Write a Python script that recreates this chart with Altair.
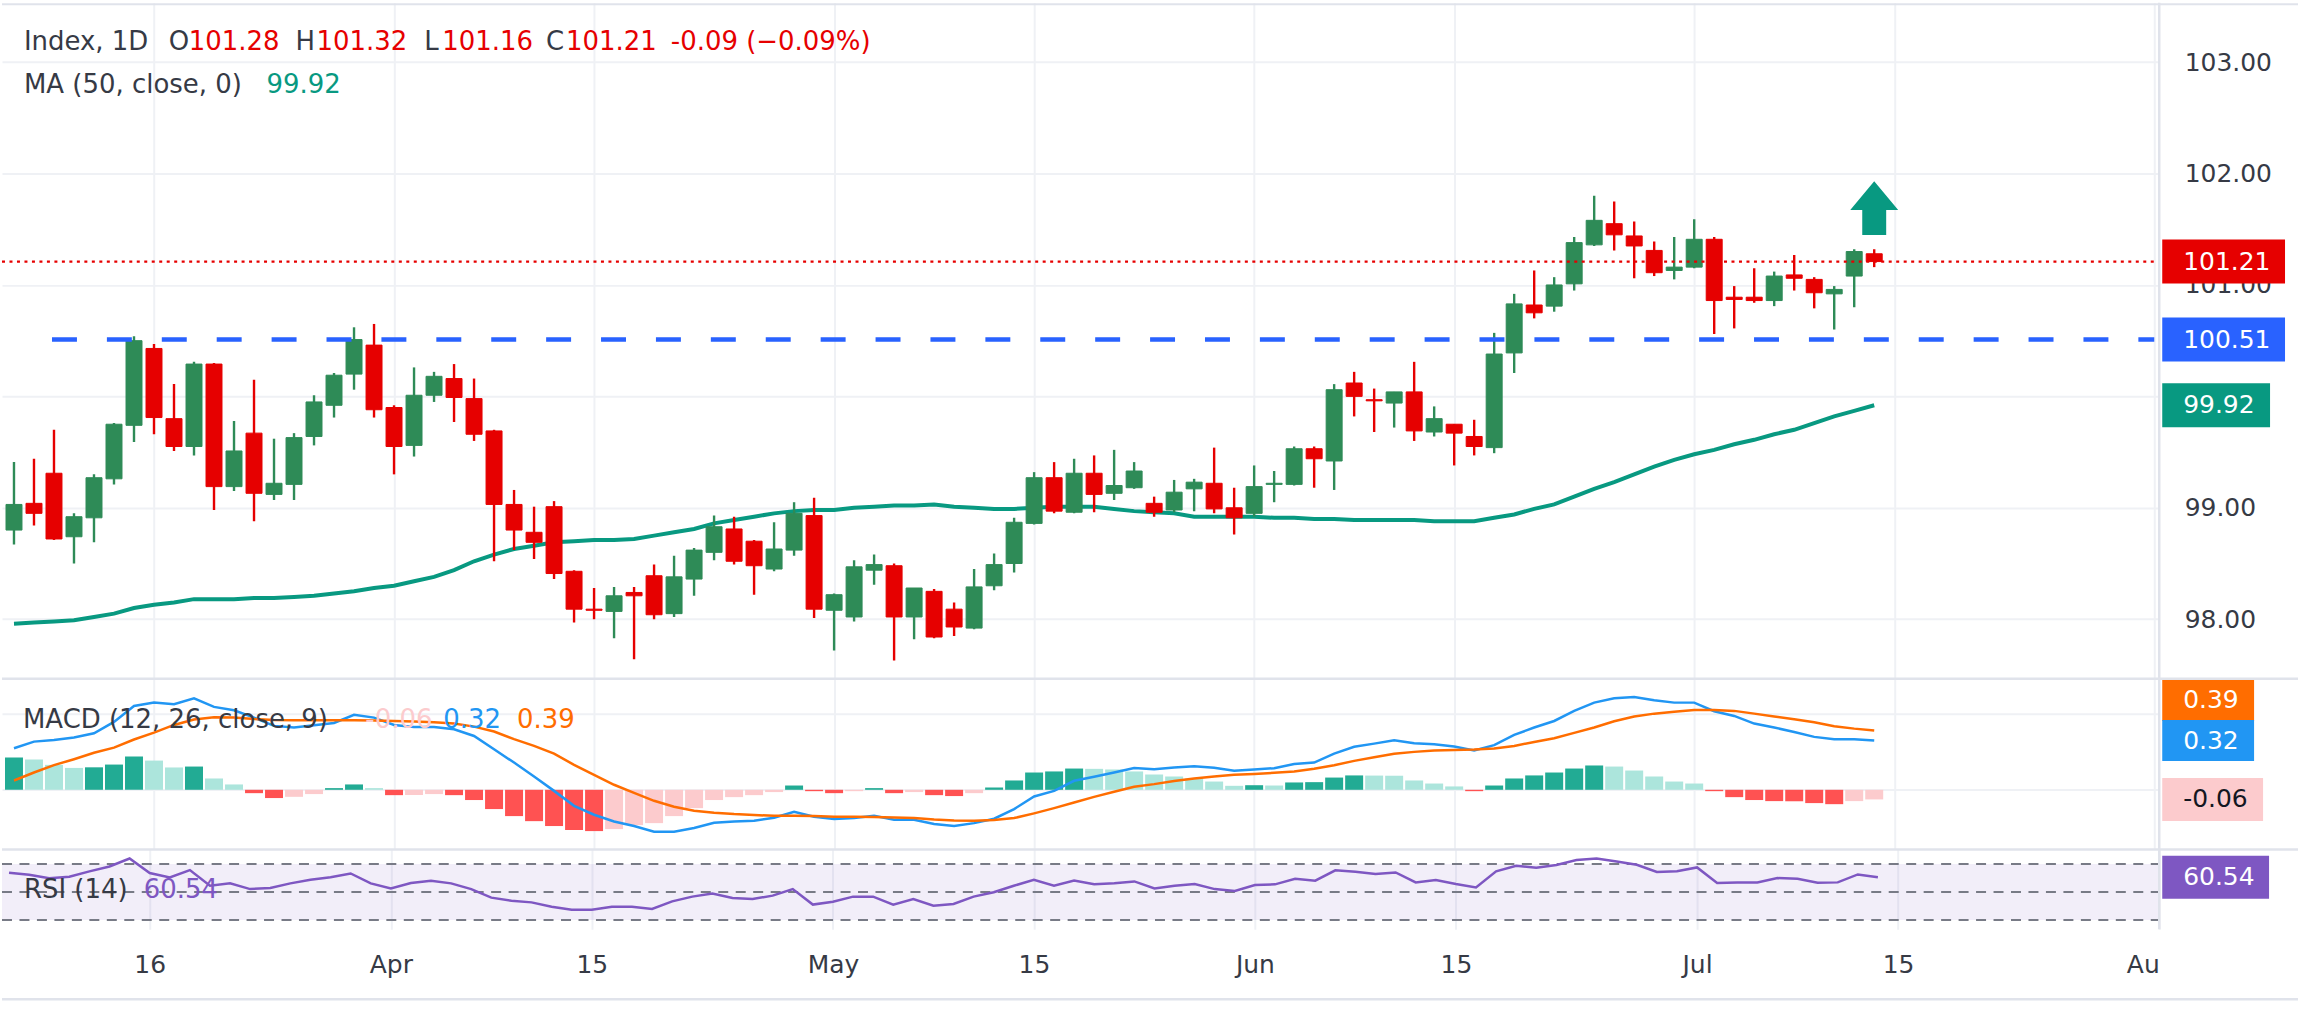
import altair as alt
import pandas as pd

# ------------------------------------------------------------------ data
opens = [
    98.80, 99.04, 99.31, 98.74, 98.91, 99.26, 99.74, 100.43, 99.80, 99.55,
    100.29, 99.19, 99.67, 99.12, 99.21, 99.64, 99.92, 100.20, 100.46, 99.90,
    99.56, 100.01, 100.16, 99.98, 99.69, 99.03, 98.78, 99.01, 98.43, 98.09,
    98.07, 98.24, 98.39, 98.05, 98.36, 98.60, 98.81, 98.70, 98.45, 98.62,
    98.93, 98.08, 98.02, 98.44, 98.48, 98.02, 98.25, 98.09, 97.92, 98.30,
    98.50, 98.86, 99.27, 98.96, 99.31, 99.13, 99.18, 99.04, 98.98, 99.17,
    99.22, 99.00, 98.95, 99.21, 99.21, 99.53, 99.42, 100.12, 99.97, 99.94,
    100.04, 99.68, 99.75, 99.64, 99.54, 100.39, 100.82, 100.81, 101.01, 101.36,
    101.55, 101.44, 101.31, 101.13, 101.16, 101.41, 100.89, 100.89, 100.86, 101.09,
    101.05, 100.92, 101.08, 101.28,
]
highs = [
    99.41, 99.44, 99.70, 98.95, 99.30, 99.76, 100.54, 100.47, 100.11, 100.31,
    100.30, 99.78, 100.15, 99.62, 99.67, 100.01, 100.21, 100.62, 100.65, 99.92,
    100.26, 100.22, 100.29, 100.16, 99.70, 99.16, 99.01, 99.06, 98.44, 98.28,
    98.29, 98.29, 98.49, 98.57, 98.64, 98.93, 98.92, 98.71, 98.87, 99.05,
    99.09, 98.23, 98.53, 98.58, 98.50, 98.28, 98.27, 98.15, 98.45, 98.59,
    98.91, 99.32, 99.41, 99.44, 99.47, 99.52, 99.41, 99.10, 99.25, 99.26,
    99.54, 99.18, 99.38, 99.33, 99.55, 99.55, 100.11, 100.22, 100.07, 100.04,
    100.31, 99.91, 99.75, 99.79, 100.57, 100.92, 101.13, 101.07, 101.43, 101.80,
    101.75, 101.57, 101.39, 101.43, 101.59, 101.43, 100.99, 101.15, 101.12, 101.27,
    101.07, 100.99, 101.32, 101.32,
]
lows = [
    98.67, 98.84, 98.71, 98.50, 98.69, 99.21, 99.59, 99.66, 99.51, 99.47,
    98.98, 99.15, 98.88, 99.07, 99.07, 99.56, 99.81, 100.06, 99.81, 99.30,
    99.46, 99.95, 99.77, 99.60, 98.52, 98.62, 98.54, 98.36, 97.97, 98.00,
    97.83, 97.64, 98.00, 98.02, 98.21, 98.53, 98.49, 98.22, 98.43, 98.57,
    98.01, 97.72, 97.98, 98.31, 97.63, 97.82, 97.83, 97.85, 97.91, 98.26,
    98.42, 98.85, 98.95, 98.95, 98.96, 99.07, 99.17, 98.92, 98.96, 98.97,
    98.95, 98.76, 98.92, 99.05, 99.20, 99.18, 99.16, 99.82, 99.68, 99.72,
    99.60, 99.64, 99.38, 99.47, 99.49, 100.21, 100.70, 100.76, 100.95, 101.35,
    101.31, 101.06, 101.08, 101.05, 101.15, 100.56, 100.61, 100.84, 100.81, 100.95,
    100.79, 100.60, 100.80, 101.16,
]
closes = [
    99.03, 98.95, 98.72, 98.92, 99.27, 99.75, 100.50, 99.81, 99.55, 100.29,
    99.19, 99.51, 99.13, 99.22, 99.63, 99.95, 100.19, 100.51, 99.88, 99.55,
    100.01, 100.18, 99.99, 99.66, 99.03, 98.80, 98.69, 98.41, 98.09, 98.08,
    98.21, 98.21, 98.04, 98.38, 98.62, 98.83, 98.52, 98.48, 98.63, 98.95,
    98.09, 98.22, 98.47, 98.49, 98.02, 98.28, 97.84, 97.93, 98.29, 98.49,
    98.87, 99.27, 98.97, 99.31, 99.12, 99.20, 99.33, 98.96, 99.14, 99.23,
    98.99, 98.91, 99.19, 99.22, 99.53, 99.44, 100.06, 100.00, 99.96, 100.04,
    99.69, 99.80, 99.67, 99.55, 100.38, 100.83, 100.75, 101.00, 101.38, 101.58,
    101.45, 101.35, 101.11, 101.16, 101.41, 100.86, 100.87, 100.86, 101.08, 101.06,
    100.93, 100.96, 101.30, 101.21,
]
ma50 = [
    97.96, 97.97, 97.98, 97.99, 98.02, 98.05, 98.10, 98.13, 98.15, 98.18,
    98.18, 98.18, 98.19, 98.19, 98.20, 98.21, 98.23, 98.25, 98.28, 98.30,
    98.34, 98.38, 98.44, 98.52, 98.58, 98.63, 98.66, 98.69, 98.70, 98.71,
    98.71, 98.72, 98.75, 98.78, 98.81, 98.86, 98.89, 98.92, 98.95, 98.97,
    98.98, 98.98, 99.00, 99.01, 99.02, 99.02, 99.03, 99.01, 99.00, 98.99,
    98.99, 99.00, 99.01, 99.01, 99.01, 98.99, 98.97, 98.96, 98.95, 98.92,
    98.92, 98.92, 98.92, 98.91, 98.91, 98.90, 98.90, 98.89, 98.89, 98.89,
    98.89, 98.88, 98.88, 98.88, 98.91, 98.94, 98.99, 99.03, 99.10, 99.17,
    99.23, 99.30, 99.37, 99.43, 99.48, 99.52, 99.57, 99.61, 99.66, 99.70,
    99.76, 99.82, 99.87, 99.92,
]
macd_line = [
    0.272, 0.315, 0.326, 0.342, 0.370, 0.444, 0.548, 0.570, 0.559, 0.598,
    0.542, 0.520, 0.472, 0.418, 0.407, 0.422, 0.437, 0.490, 0.472, 0.424,
    0.411, 0.411, 0.396, 0.352, 0.265, 0.178, 0.087, -0.007, -0.105, -0.163,
    -0.207, -0.237, -0.274, -0.274, -0.250, -0.215, -0.207, -0.202, -0.183, -0.144,
    -0.176, -0.191, -0.185, -0.170, -0.196, -0.196, -0.224, -0.237, -0.218, -0.189,
    -0.126, -0.044, -0.007, 0.059, 0.085, 0.113, 0.143, 0.135, 0.146, 0.154,
    0.144, 0.124, 0.133, 0.141, 0.168, 0.178, 0.237, 0.281, 0.302, 0.324,
    0.305, 0.298, 0.283, 0.257, 0.292, 0.359, 0.407, 0.450, 0.516, 0.570,
    0.598, 0.607, 0.585, 0.570, 0.570, 0.514, 0.483, 0.433, 0.407, 0.378,
    0.346, 0.331, 0.331, 0.322,
]
signal_line = [
    0.061, 0.113, 0.161, 0.200, 0.242, 0.276, 0.329, 0.374, 0.424, 0.459,
    0.474, 0.472, 0.463, 0.457, 0.455, 0.455, 0.455, 0.455, 0.453, 0.450,
    0.446, 0.442, 0.433, 0.413, 0.381, 0.331, 0.287, 0.237, 0.163, 0.098,
    0.033, -0.020, -0.072, -0.111, -0.137, -0.150, -0.159, -0.165, -0.170, -0.170,
    -0.172, -0.176, -0.176, -0.178, -0.181, -0.185, -0.194, -0.200, -0.202, -0.198,
    -0.185, -0.154, -0.120, -0.083, -0.046, -0.013, 0.020, 0.037, 0.057, 0.074,
    0.087, 0.098, 0.104, 0.111, 0.120, 0.137, 0.161, 0.189, 0.213, 0.235,
    0.248, 0.257, 0.261, 0.263, 0.270, 0.287, 0.313, 0.337, 0.372, 0.407,
    0.448, 0.479, 0.498, 0.511, 0.522, 0.521, 0.516, 0.498, 0.479, 0.461,
    0.442, 0.416, 0.400, 0.388,
]
macd_hist = [
    0.211, 0.198, 0.163, 0.143, 0.147, 0.165, 0.218, 0.191, 0.146, 0.152,
    0.074, 0.035, -0.022, -0.054, -0.046, -0.028, 0.011, 0.035, 0.011, -0.035,
    -0.034, -0.028, -0.035, -0.067, -0.126, -0.172, -0.205, -0.237, -0.263, -0.270,
    -0.257, -0.231, -0.218, -0.172, -0.120, -0.067, -0.048, -0.035, -0.015, 0.028,
    -0.009, -0.022, -0.009, 0.011, -0.022, -0.015, -0.035, -0.041, -0.022, 0.015,
    0.061, 0.113, 0.120, 0.139, 0.137, 0.133, 0.120, 0.100, 0.087, 0.074,
    0.054, 0.026, 0.030, 0.028, 0.048, 0.050, 0.080, 0.094, 0.093, 0.092,
    0.061, 0.041, 0.022, -0.009, 0.028, 0.074, 0.094, 0.113, 0.139, 0.159,
    0.152, 0.126, 0.087, 0.054, 0.041, -0.009, -0.048, -0.067, -0.074, -0.075,
    -0.087, -0.094, -0.074, -0.063,
]
rsi14 = [
    63.8, 62.4, 59.8, 61.0, 64.8, 68.3, 74.0, 63.6, 60.5, 65.7,
    54.5, 56.2, 52.1, 52.9, 56.2, 58.8, 60.5, 63.3, 56.2, 52.6,
    56.4, 58.1, 56.2, 52.1, 46.0, 43.8, 42.6, 39.5, 37.4, 37.4,
    39.5, 39.5, 37.9, 43.3, 46.7, 49.0, 45.7, 45.0, 47.4, 52.1,
    41.0, 43.1, 46.7, 46.7, 41.0, 45.0, 40.2, 41.4, 46.7, 49.8,
    54.5, 58.8, 54.5, 58.3, 55.5, 56.2, 57.6, 52.6, 54.5, 55.7,
    52.1, 50.7, 55.0, 55.5, 59.5, 58.1, 65.5, 64.5, 62.9, 64.0,
    56.9, 58.6, 55.7, 53.3, 64.8, 68.8, 67.4, 69.3, 72.9, 74.0,
    71.9, 69.5, 64.3, 64.8, 67.6, 56.5, 56.9, 56.9, 60.0, 59.5,
    56.7, 56.9, 62.6, 60.54,
]
tick_index = [7, 19, 29, 41, 51, 62, 72, 84, 94, 107]
tick_labels = ["16", "Apr", "15", "May", "15", "Jun", "15", "Jul", "15", "Au"]
support_level = 100.51
support_start = 1.9
arrow_level = 101.69
price_ticks = [98, 99, 100, 101, 102, 103]
hidden_price_label = 100   # covered by the MA value tag in the reference

# ------------------------------------------------------------------ style / layout
FONT = "DejaVu Sans"
FS = 25      # axis / box text
LFS = 26     # legend text
UP = "#2E8B57"
DN = "#E60000"
TEAL = "#089981"
BLUE = "#2962FF"
GRID = "#EFF1F5"
SEP = "#E0E3EB"
TXT = "#363A45"
MACD_C = "#2196F3"
SIG_C = "#FF6D00"
RSI_C = "#7E57C2"
HIST_DOM = ["ag", "af", "br", "bf"]
HIST_RNG = ["#22AB94", "#ACE5DC", "#FCCBCD", "#FF5252"]

W = 2161
H1, H2, H3 = 677, 171, 80
FULLW = 2300
X_DOMAIN = [-0.35, 107.0]
BOX_X0 = 2164

n = len(closes)
idx = list(range(n))

main_df = pd.DataFrame({"i": idx, "open": opens, "high": highs, "low": lows,
                        "close": closes, "ma": ma50})
main_df["top"] = main_df[["open", "close"]].max(axis=1)
main_df["bot"] = main_df[["open", "close"]].min(axis=1)

cats = []
prev = None
for h in macd_hist:
    if h >= 0:
        cats.append("ag" if (prev is None or h > prev) else "af")
    else:
        cats.append("bf" if (prev is None or h < prev) else "br")
    prev = h
macd_df = pd.DataFrame({"i": idx, "macd": macd_line, "signal": signal_line,
                        "hist": macd_hist, "hc": cats, "zero": [0.0] * n})
rsi_df = pd.DataFrame({"i": idx, "rsi": rsi14})

ONE = pd.DataFrame({"a": [0]})

xs = alt.Scale(domain=X_DOMAIN, nice=False, zero=False)
x_grid = alt.Axis(values=tick_index, labels=False, ticks=False, domain=False,
                  grid=True, gridColor=GRID, gridWidth=2, title=None)
label_expr = ("[" + ",".join(f"'{t}'" for t in tick_labels) + "][indexof(["
              + ",".join(str(v) for v in tick_index) + "], datum.value)]")
x_lab = alt.Axis(values=tick_index, labelExpr=label_expr, labelFont=FONT,
                 labelFontSize=FS, labelColor=TXT, labelPadding=23,
                 labelFlush=False, labelOverlap=False,
                 labelAlign={"condition": {"test": f"datum.value == {tick_index[-1]}",
                                           "value": "right"}, "value": "center"},
                 ticks=False, domain=False, grid=True, gridColor=GRID,
                 gridWidth=2, title=None)


def XF(field="i", axis=x_grid):
    return alt.X(f"{field}:Q", scale=xs, axis=axis)


def text_piece(text, x, y, color, size=LFS):
    return alt.Chart(ONE).mark_text(text=text, align="left", baseline="alphabetic",
                                    font=FONT, fontSize=size, color=color).encode(
        x=alt.value(x), y=alt.value(y))


def hrule(y, x0=0, x1=FULLW, color=SEP, width=2.5):
    return alt.Chart(ONE).mark_rule(color=color, strokeWidth=width).encode(
        x=alt.value(x0), x2=alt.value(x1), y=alt.value(y))


def vrule(x, y0, y1, color=SEP, width=2.5):
    return alt.Chart(ONE).mark_rule(color=color, strokeWidth=width).encode(
        x=alt.value(x), y=alt.value(y0), y2=alt.value(y1))


def value_box(yfn, value, text, w, h, fill, tcolor, yoff=0):
    r = h / w
    path = f"M-1,{-r:.4f}L1,{-r:.4f}L1,{r:.4f}L-1,{r:.4f}Z"
    d = pd.DataFrame({"v": [value], "t": [text]})
    b = alt.Chart(d).mark_point(shape=path, size=w * w, filled=True, color=fill,
                                opacity=1, strokeWidth=0, yOffset=yoff).encode(
        x=alt.value(BOX_X0 + w / 2), y=yfn("v"))
    t = alt.Chart(d).mark_text(align="left", baseline="middle", font=FONT,
                               fontSize=FS, color=tcolor, yOffset=yoff).encode(
        x=alt.value(BOX_X0 + 21), y=yfn("v"), text="t:N")
    return [b, t]


# ------------------------------------------------------------------ main pane
ys1 = alt.Scale(domain=[97.466, 103.532], nice=False, zero=False)
y1_axis = alt.Axis(orient="right", values=price_ticks,
                   labelExpr=f"datum.value == {hidden_price_label} ? '' : format(datum.value, '.2f')",
                   labelFont=FONT, labelFontSize=FS, labelColor=TXT, labelPadding=25,
                   labelAlign="left", labelBaseline="middle", ticks=False,
                   domain=False, grid=True, gridColor=GRID, gridWidth=2,
                   title=None, labelOverlap=False)


def Y1(f):
    return alt.Y(f"{f}:Q", scale=ys1, axis=y1_axis)


color_cond = alt.condition(alt.datum.close >= alt.datum.open, alt.value(UP), alt.value(DN))
base = alt.Chart(main_df)
ma_l = base.mark_line(color=TEAL, strokeWidth=4, clip=True).encode(x=XF(), y=Y1("ma"))
wicks = base.mark_rule(strokeWidth=2.4, clip=True).encode(
    x=XF(), y=Y1("low"), y2=alt.Y2("high:Q"), color=color_cond)
bodies = base.mark_bar(size=16, clip=True, strokeWidth=1).encode(
    x=XF(), y=Y1("bot"), y2=alt.Y2("top:Q"), color=color_cond, stroke=color_cond)

lvl_df = pd.DataFrame({"x0": [support_start], "x1": [X_DOMAIN[1]], "p": [support_level]})
level_rule = alt.Chart(lvl_df).mark_rule(color=BLUE, strokeWidth=4.5,
                                         strokeDash=[25, 30]).encode(
    x=XF("x0"), x2=alt.X2("x1:Q"), y=Y1("p"))

last_df = pd.DataFrame({"p": [closes[-1]]})
price_rule = alt.Chart(last_df).mark_rule(color=DN, strokeWidth=2.3,
                                          strokeDash=[3, 4.5]).encode(
    x=alt.value(0), x2=alt.value(W), y=Y1("p"))

ARROW = "M0,-1L0.889,0.074L0.444,0.074L0.444,1L-0.444,1L-0.444,0.074L-0.889,0.074Z"
arrow_df = pd.DataFrame({"i": [n - 1], "p": [arrow_level]})
arrow = alt.Chart(arrow_df).mark_point(shape=ARROW, size=54 * 54, filled=True,
                                       color=TEAL, opacity=1, strokeWidth=0).encode(
    x=XF(), y=Y1("p"))

chg = closes[-1] - closes[-2]
pct = chg / closes[-2] * 100
chg_text = f"{chg:.2f} ({pct:.2f}%)".replace("(-", "(\u2212")

main_layers = [ma_l, wicks, bodies, level_rule, price_rule, arrow]
main_layers += value_box(Y1, closes[-1], f"{closes[-1]:.2f}", 123, 44, DN, "white")
main_layers += value_box(Y1, support_level, f"{support_level:.2f}", 123, 44, BLUE, "white")
main_layers += value_box(Y1, ma50[-1], f"{ma50[-1]:.2f}", 108, 44, TEAL, "white")
main_layers += [
    text_piece("Index, 1D", 22, 47, TXT),
    text_piece("O", 167, 47, TXT), text_piece(f"{opens[-1]:.2f}", 187, 47, DN),
    text_piece("H", 294, 47, TXT), text_piece(f"{highs[-1]:.2f}", 315, 47, DN),
    text_piece("L", 423, 47, TXT), text_piece(f"{lows[-1]:.2f}", 441, 47, DN),
    text_piece("C", 545, 47, TXT), text_piece(f"{closes[-1]:.2f}", 565, 47, DN),
    text_piece(chg_text, 670, 47, DN),
    text_piece("MA (50, close, 0)", 22, 90, TXT),
    text_piece(f"{ma50[-1]:.2f}", 265, 90, TEAL),
    hrule(1.5, width=2),
    vrule(W, 0, H1),
]
main = alt.layer(*main_layers).properties(width=W, height=H1)

# ------------------------------------------------------------------ MACD pane
ys2 = alt.Scale(domain=[-0.3897, 0.7265], nice=False, zero=False)
y2_axis = alt.Axis(orient="right", values=[0, 0.5], labels=False, ticks=False,
                   domain=False, grid=True, gridColor=GRID, gridWidth=2, title=None)


def Y2p(f):
    return alt.Y(f"{f}:Q", scale=ys2, axis=y2_axis)


mbase = alt.Chart(macd_df)
hist = mbase.mark_bar(size=18).encode(
    x=XF(), y=Y2p("hist"), y2=alt.Y2("zero:Q"),
    color=alt.Color("hc:N", scale=alt.Scale(domain=HIST_DOM, range=HIST_RNG), legend=None))
macd_l = mbase.mark_line(color=MACD_C, strokeWidth=2.5).encode(x=XF(), y=Y2p("macd"))
sig_l = mbase.mark_line(color=SIG_C, strokeWidth=2.5).encode(x=XF(), y=Y2p("signal"))
last_hist_color = HIST_RNG[HIST_DOM.index(cats[-1])]

macd_layers = [hist, macd_l, sig_l,
               text_piece("MACD (12, 26, close, 9)", 21, 49, TXT),
               text_piece(f"{macd_hist[-1]:.2f}", 364, 49, last_hist_color),
               text_piece(f"{macd_line[-1]:.2f}", 442, 49, MACD_C),
               text_piece(f"{signal_line[-1]:.2f}", 516, 49, SIG_C)]
macd_layers += value_box(Y2p, signal_line[-1], f"{signal_line[-1]:.2f}", 92, 41, SIG_C, "white", yoff=-30)
macd_layers += value_box(Y2p, macd_line[-1], f"{macd_line[-1]:.2f}", 92, 41, MACD_C, "white")
macd_layers += value_box(Y2p, macd_hist[-1], f"{macd_hist[-1]:.2f}", 101, 43, last_hist_color, "#131722")
macd_layers += [hrule(0), vrule(W, 0, H2)]
macd = alt.layer(*macd_layers).properties(width=W, height=H2)

# ------------------------------------------------------------------ RSI pane
ys3 = alt.Scale(domain=[23.36, 80.5], nice=False, zero=False)


def Y3(f):
    return alt.Y(f"{f}:Q", scale=ys3, axis=None)


band_df = pd.DataFrame({"hi": [70], "lo": [30]})
band = alt.Chart(band_df).mark_rect(color=RSI_C, opacity=0.1).encode(
    x=alt.value(0), x2=alt.value(W), y=Y3("hi"), y2=alt.Y2("lo:Q"))
lv_df = pd.DataFrame({"lv": [70, 50, 30]})
levels = alt.Chart(lv_df).mark_rule(color="#787B86", strokeWidth=2,
                                    strokeDash=[10, 7.5]).encode(
    x=alt.value(0), x2=alt.value(W), y=Y3("lv"))
rsi_l = alt.Chart(rsi_df).mark_line(color=RSI_C, strokeWidth=2.5).encode(
    x=XF(axis=x_lab), y=Y3("rsi"))

rsi_layers = [band, levels, rsi_l,
              text_piece("RSI (14)", 22, 49, TXT),
              text_piece(f"{rsi14[-1]:.2f}", 142, 49, RSI_C)]
rsi_layers += value_box(Y3, rsi14[-1], f"{rsi14[-1]:.2f}", 107, 43, RSI_C, "white")
rsi_layers += [hrule(0), vrule(W, 0, H3), hrule(150, width=2.5)]
rsi = alt.layer(*rsi_layers).properties(width=W, height=H3)

chart = alt.vconcat(main, macd, rsi, spacing=0, bounds="flush").configure_view(
    stroke=None).properties(padding=0, background="white")

chart.save("out.html", embed_options={"renderer": "svg", "actions": False})
